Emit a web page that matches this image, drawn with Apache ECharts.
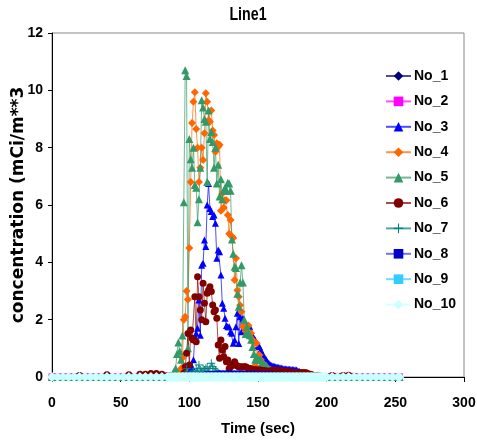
<!DOCTYPE html>
<html><head><meta charset="utf-8">
<script src="https://cdn.jsdelivr.net/npm/echarts@6/dist/echarts.min.js"></script>
<style>html,body{margin:0;padding:0;background:#fff}#c{width:477px;height:440px}</style>
</head><body><div id="c"></div>
<script>
// ---- data ----
const time = [0,4,8,12,16,20,24,28,32,36,40,44,48,52,56,60,64,68,72,76,80,
84,85,86,87,88,89,90,91,92,93,94,95,96,97,98,99,100,101,102,103,104,105,106,107,108,109,110,111,112,113,
114,115,116,117,118,119,120,121,122,123,124,125,126,127,128,129,130,131,132,133,134,135,136,137,138,139,140,141,142,143,
144,145,146,147,148,149,150,151,152,153,154,155,156,157,158,159,160,161,162,163,164,165,166,167,168,169,170,171,172,173,
174,175,176,177,178,179,180,181,182,183,184,185,186,187,188,189,190,191,192,193,194,195,196,197,198,199,200,
204,208,212,216,220,224,228,232,236,240,244,248,252,253];

const baseline = [0,0,0,0,0,0,0,0,0,0,0,0,0,0,0,0,0,0,0,0,0,
0,0,0,0,0,0,0,0,0,0, 0,0,0,0,0,0,0,0,0,0, 0,0,0,0,0,0,0,0,0,0, 0,0,0,0,0,0,0,0,0,0,
0,0,0,0,0,0,0,0,0,0, 0,0,0,0,0,0,0,0,0,0, 0,0,0,0,0,0,0,0,0,0, 0,0,0,0,0,0,0,0,0,0,
0,0,0,0,0,0,0,0,0,0, 0,0,0,0,0,0,0,0,0,0, 0,0,0,0,0,0,0,0,0,0, 0,0,0,0,0,0,0,
0,0,0,0,0,0,0,0,0,0,0,0,0,0];

const no1 = baseline;
const no2 = baseline;
const no3 = [0,0,0,0,0,0,0,0,0,0,0,0,0,0,0,0,0,0,0,0,0,
0,0,0,0,0,0,0,0,0,0,
0,0,0,0,0.05,0.08,0.2,0.3,0.36,0.6,
1.4,1.53,1.7,2.69,1.46,3.9,3.97,4.78,4.55,6.0,
6.75,5.88,5.77,5.6,5.65,5.36,4.14,4.43,4.37,3.56,
2.57,2.4,2.05,1.8,1.75,1.75,1.58,1.53,1.18,1.29,
1.75,2.22,1.17,2.1,1.58,2.05,1.64,1.6,1.52,1.5,
1.75,1.52,1.45,1.35,1.29,1.2,1.1,1.06,0.95,0.83,
0.75,0.65,0.6,0.52,0.47,0.42,0.4,0.38,0.37,0.36,
0.34,0.33,0.32,0.31,0.3,0.29,0.28,0.28,0.27,0.27,
0.26,0.26,0.25,0.25,0.24,0.22,0.2,0.16,0.12,0.1,
0.08,0.06,0.05,0.04,0.03,0.02,0.02,0.01,0.01,0,
0,0,0,0,0,0,0,
0,0,0,0,0,0,0,0,0,0,0,0,0,0];
const no4 = [0,0,0,0,0,0,0,0,0,0,0,0,0,0,0,0,0,0,0,0,0,
0,0,0,0,0,0,0.05,0.1,0.15,0.2,
0.3,0.66,2.0,2.1,3.0,2.7,4.5,6.8,8.86,9.6,
9.93,8.65,8.0,6.8,7.3,8.0,7.57,8.5,9.9,9.6,
8.96,8.9,9.3,8.6,8.44,7.86,8.15,8.03,8.1,5.8,
6.4,5.9,6.17,6.17,5.65,5.0,5.48,4.9,4.85,3.38,
4.14,3.03,2.8,2.5,2.28,1.75,1.87,1.6,1.75,1.8,
1.4,1.53,1.3,1.18,0.4,1.18,0.66,0.77,0.6,0.5,
0.45,0.4,0.36,0.3,0.24,0.24,0.22,0.2,0.2,0.18,
0.18,0.15,0.12,0.1,0.1,0.08,0.08,0.06,0.05,0.05,
0.04,0.03,0.03,0.02,0.02,0.01,0.01,0,0,0,
0,0,0,0,0,0,0,0,0,0,
0,0,0,0,0,0,0,
0,0,0,0,0,0,0,0,0,0,0,0,0,0];
const no5 = [0,0,0,0,0,0,0,0,0,0,0,0,0,0,0,0,0,0,0,0,0.05,
0,0,0,0.05,0.1,0.2,0.3,0.8,1.2,0.9,
0.6,1.45,6.1,10.7,10.5,1.0,8.3,7.6,7.3,8.0,
6.7,6.6,5.4,6.2,7.3,9.65,9.4,9.0,8.9,6.8,
9.3,8.3,8.55,8.2,7.3,8.0,6.75,7.4,6.3,6.9,
6.2,6.5,6.6,6.5,6.78,6.75,6.5,4.8,4.3,3.85,
3.8,2.9,2.45,3.3,3.9,3.3,2.0,1.5,1.75,1.5,
1.46,1.3,1.05,0.8,0.6,0.7,0.6,0.6,0.6,0.5,
0.45,0.4,0.4,0.3,0.25,0.2,0.15,0.12,0.1,0.08,
0.06,0.05,0.04,0.03,0.03,0.02,0.02,0.02,0.01,0.01,
0.01,0,0,0,0,0,0,0,0,0,
0,0,0,0,0,0,0,0,0,0,
0,0,0,0,0,0,0,
0,0,0,0,0,0,0,0,0,0,0,0,0,0];
const no6 = [0,0,0,0,0,0.05,0,0,0,0,0.08,0,0,0,0.08,0,0.1,0.1,0.12,0.12,0.1,
0.05,0.02,0,0.05,0.02,0.03,0.05,0.02,0.03,0.02,
0.02,0.05,0.13,0.36,0.83,1.52,0.42,1.64,1.35,1.29,
2.8,1.23,3.5,2.8,2.34,2.0,3.27,2.57,1.93,2.92,
3.03,3.15,2.98,2.51,2.28,2.34,2.05,1.12,0.65,1.29,
0.94,0.71,1.06,0.53,0.59,0.3,0.36,0.4,0.45,0.53,
0.42,0.38,0.36,0.35,0.36,0.34,0.36,0.36,0.33,0.3,
0.3,0.28,0.26,0.25,0.25,0.24,0.24,0.24,0.24,0.23,
0.22,0.22,0.21,0.2,0.2,0.21,0.22,0.23,0.24,0.24,
0.23,0.22,0.22,0.21,0.2,0.2,0.2,0.19,0.18,0.18,
0.17,0.16,0.16,0.15,0.15,0.15,0.15,0.15,0.15,0.15,
0.15,0.15,0.12,0.1,0.1,0.08,0.06,0.05,0.05,0.04,
0.04,0.03,0.03,0.02,0.02,0.02,0.02,
0.05,0.03,0.05,0.06,0.03,0,0,0,0,0,0,0,0,0];
const no7 = [0,0,0,0,0,0,0,0,0,0,0,0,0,0,0,0,0,0,0,0,0,
0,0,0,0,0,0,0,0,0,0,
0,0,0.05,0.1,0.3,0.1,0.05,0.1,0.15,0.2,
0.1,0.3,0.2,0.42,0.24,0.2,0.3,0.24,0.3,0.35,
0.2,0.3,0.48,0.36,0.3,0.24,0.2,0.15,0.1,0.08,
0.05,0.04,0.03,0.02,0.02,0.01,0,0,0,0,
0,0,0,0,0,0,0,0,0,0, 0,0,0,0,0,0,0,0,0,0, 0,0,0,0,0,0,0,0,0,0,
0,0,0,0,0,0,0,0,0,0, 0,0,0,0,0,0,0,0,0,0, 0,0,0,0,0,0,0,0,0,0,
0,0,0,0,0,0,0,
0,0,0,0,0,0,0,0,0,0,0,0,0,0];
const no8 = [0,0,0,0,0,0,0,0,0,0,0,0,0,0,0,0,0,0,0,0,0,
0,0,0,0,0,0,0,0,0,0,
0,0,0,0,0.02,0.03,0.04,0.05,0.05,0.06,
0.07,0.08,0.08,0.09,0.1,0.1,0.1,0.11,0.12,0.12,
0.12,0.13,0.13,0.13,0.14,0.14,0.14,0.15,0.15,0.15,
0.15,0.15,0.15,0.15,0.15,0.15,0.15,0.15,0.15,0.15,
0.15,0.15,0.15,0.15,0.15,0.14,0.14,0.14,0.14,0.14,
0.14,0.14,0.13,0.13,0.13,0.13,0.13,0.13,0.12,0.12,
0.12,0.12,0.12,0.12,0.12,0.12,0.12,0.11,0.11,0.11,
0.11,0.11,0.11,0.11,0.1,0.1,0.1,0.1,0.1,0.1,
0.1,0.1,0.09,0.09,0.09,0.09,0.08,0.08,0.08,0.07,
0.07,0.07,0.06,0.06,0.05,0.05,0.04,0.04,0.03,0.03,
0.02,0.02,0.02,0.01,0.01,0.01,0,
0,0,0,0,0,0,0,0,0,0,0,0,0,0];
const no9 = baseline;
const no10 = baseline;

const seriesNames = ['No_1','No_2','No_3','No_4','No_5','No_6','No_7','No_8','No_9','No_10'];
const seriesValues = [no1,no2,no3,no4,no5,no6,no7,no8,no9,no10];
const xTicks = [0,50,100,150,200,250,300];
const yTicks = [0,2,4,6,8,10,12];
const titleText = 'Line1';
const xName = 'Time (sec)';
const yName = 'concentration (mCi/m**3';

// ---- styles ----
const FONT = 'Liberation Sans';
const cross='path://M4,0h1v4h4v1h-4v4h-1v-4h-4v-1h4z';
const styles = [
  {color:'#000080', line:'#000080', symbol:'diamond', size:6},
  {color:'#FF00FF', line:'#FF00FF', symbol:'rect', size:7},
  {color:'#0000FF', line:'#0000FF', symbol:'triangle', size:7},
  {color:'#FF6600', line:'#FF6600', symbol:'diamond', size:8},
  {color:'#339966', line:'#339966', symbol:'triangle', size:8},
  {color:'#800000', line:'#800000', symbol:'circle', size:7},
  {color:'#008080', line:'#008080', symbol:cross, size:8},
  {color:'#0000CC', line:'#3333FF', symbol:'rect', size:4},
  {color:'#33CCFF', line:'#33CCFF', symbol:'rect', size:6},
  {color:'#CCFFFF', line:'#CCFFFF', symbol:'diamond', size:10}
];

const series = seriesNames.map((n,i)=>({
  name:n, type:'line',
  data: time.map((t,k)=>[t, seriesValues[i][k]]),
  symbol: styles[i].symbol, symbolSize: styles[i].size,
  showSymbol:true, showAllSymbol:true,
  itemStyle:{color:styles[i].color},
  lineStyle:{color:styles[i].line, width:1, opacity:0.7},
  emphasis:{disabled:true},
  animation:false
}));

const chart = echarts.init(document.getElementById('c'), null, {renderer:'canvas'});
chart.setOption({
  backgroundColor:'#ffffff',
  animation:false,
  graphic:[{type:'text', x:248, y:15, scaleX:0.75, silent:true,
    style:{text:titleText, fontSize:19, fontWeight:'bold', fontFamily:FONT, fill:'#000', align:'center', verticalAlign:'middle'}}],
  legend:{data:seriesNames, orient:'vertical', left:385, top:69, padding:0,
    itemWidth:25, itemHeight:12, itemGap:11.4, selectedMode:false,
    textStyle:{fontFamily:FONT, fontSize:14, fontWeight:'bold', color:'#000', padding:[0,0,0,-2]}},
  grid:{left:52, right:13, top:33, bottom:63, outerBoundsMode:'none', containLabel:false,
    show:true, borderColor:'#888', borderWidth:1, backgroundColor:'transparent'},
  xAxis:{type:'value', min:xTicks[0], max:xTicks[xTicks.length-1], interval:50,
    name:xName, nameLocation:'middle', nameGap:44, nameMoveOverlap:false,
    nameTextStyle:{fontFamily:FONT, fontSize:15, fontWeight:'bold', color:'#000'},
    axisLine:{onZero:false, lineStyle:{color:'#000', width:1}},
    axisTick:{show:true, inside:false, length:5, lineStyle:{color:'#000'}},
    axisLabel:{margin:19, fontFamily:FONT, fontSize:14, fontWeight:'bold', color:'#000'},
    splitLine:{show:false}},
  yAxis:{type:'value', min:yTicks[0], max:yTicks[yTicks.length-1], interval:2,
    name:yName, nameLocation:'middle', nameGap:25, nameRotate:90, nameMoveOverlap:false,
    nameTextStyle:{fontFamily:'DejaVu Sans', fontSize:17, fontWeight:'bold', color:'#000'},
    axisLine:{show:true, lineStyle:{color:'#000', width:1}},
    axisTick:{show:true, inside:false, length:4, lineStyle:{color:'#000'}},
    axisLabel:{margin:9, fontFamily:FONT, fontSize:14, fontWeight:'bold', color:'#000'},
    splitLine:{show:false}},
  series: series
});
</script></body></html>
